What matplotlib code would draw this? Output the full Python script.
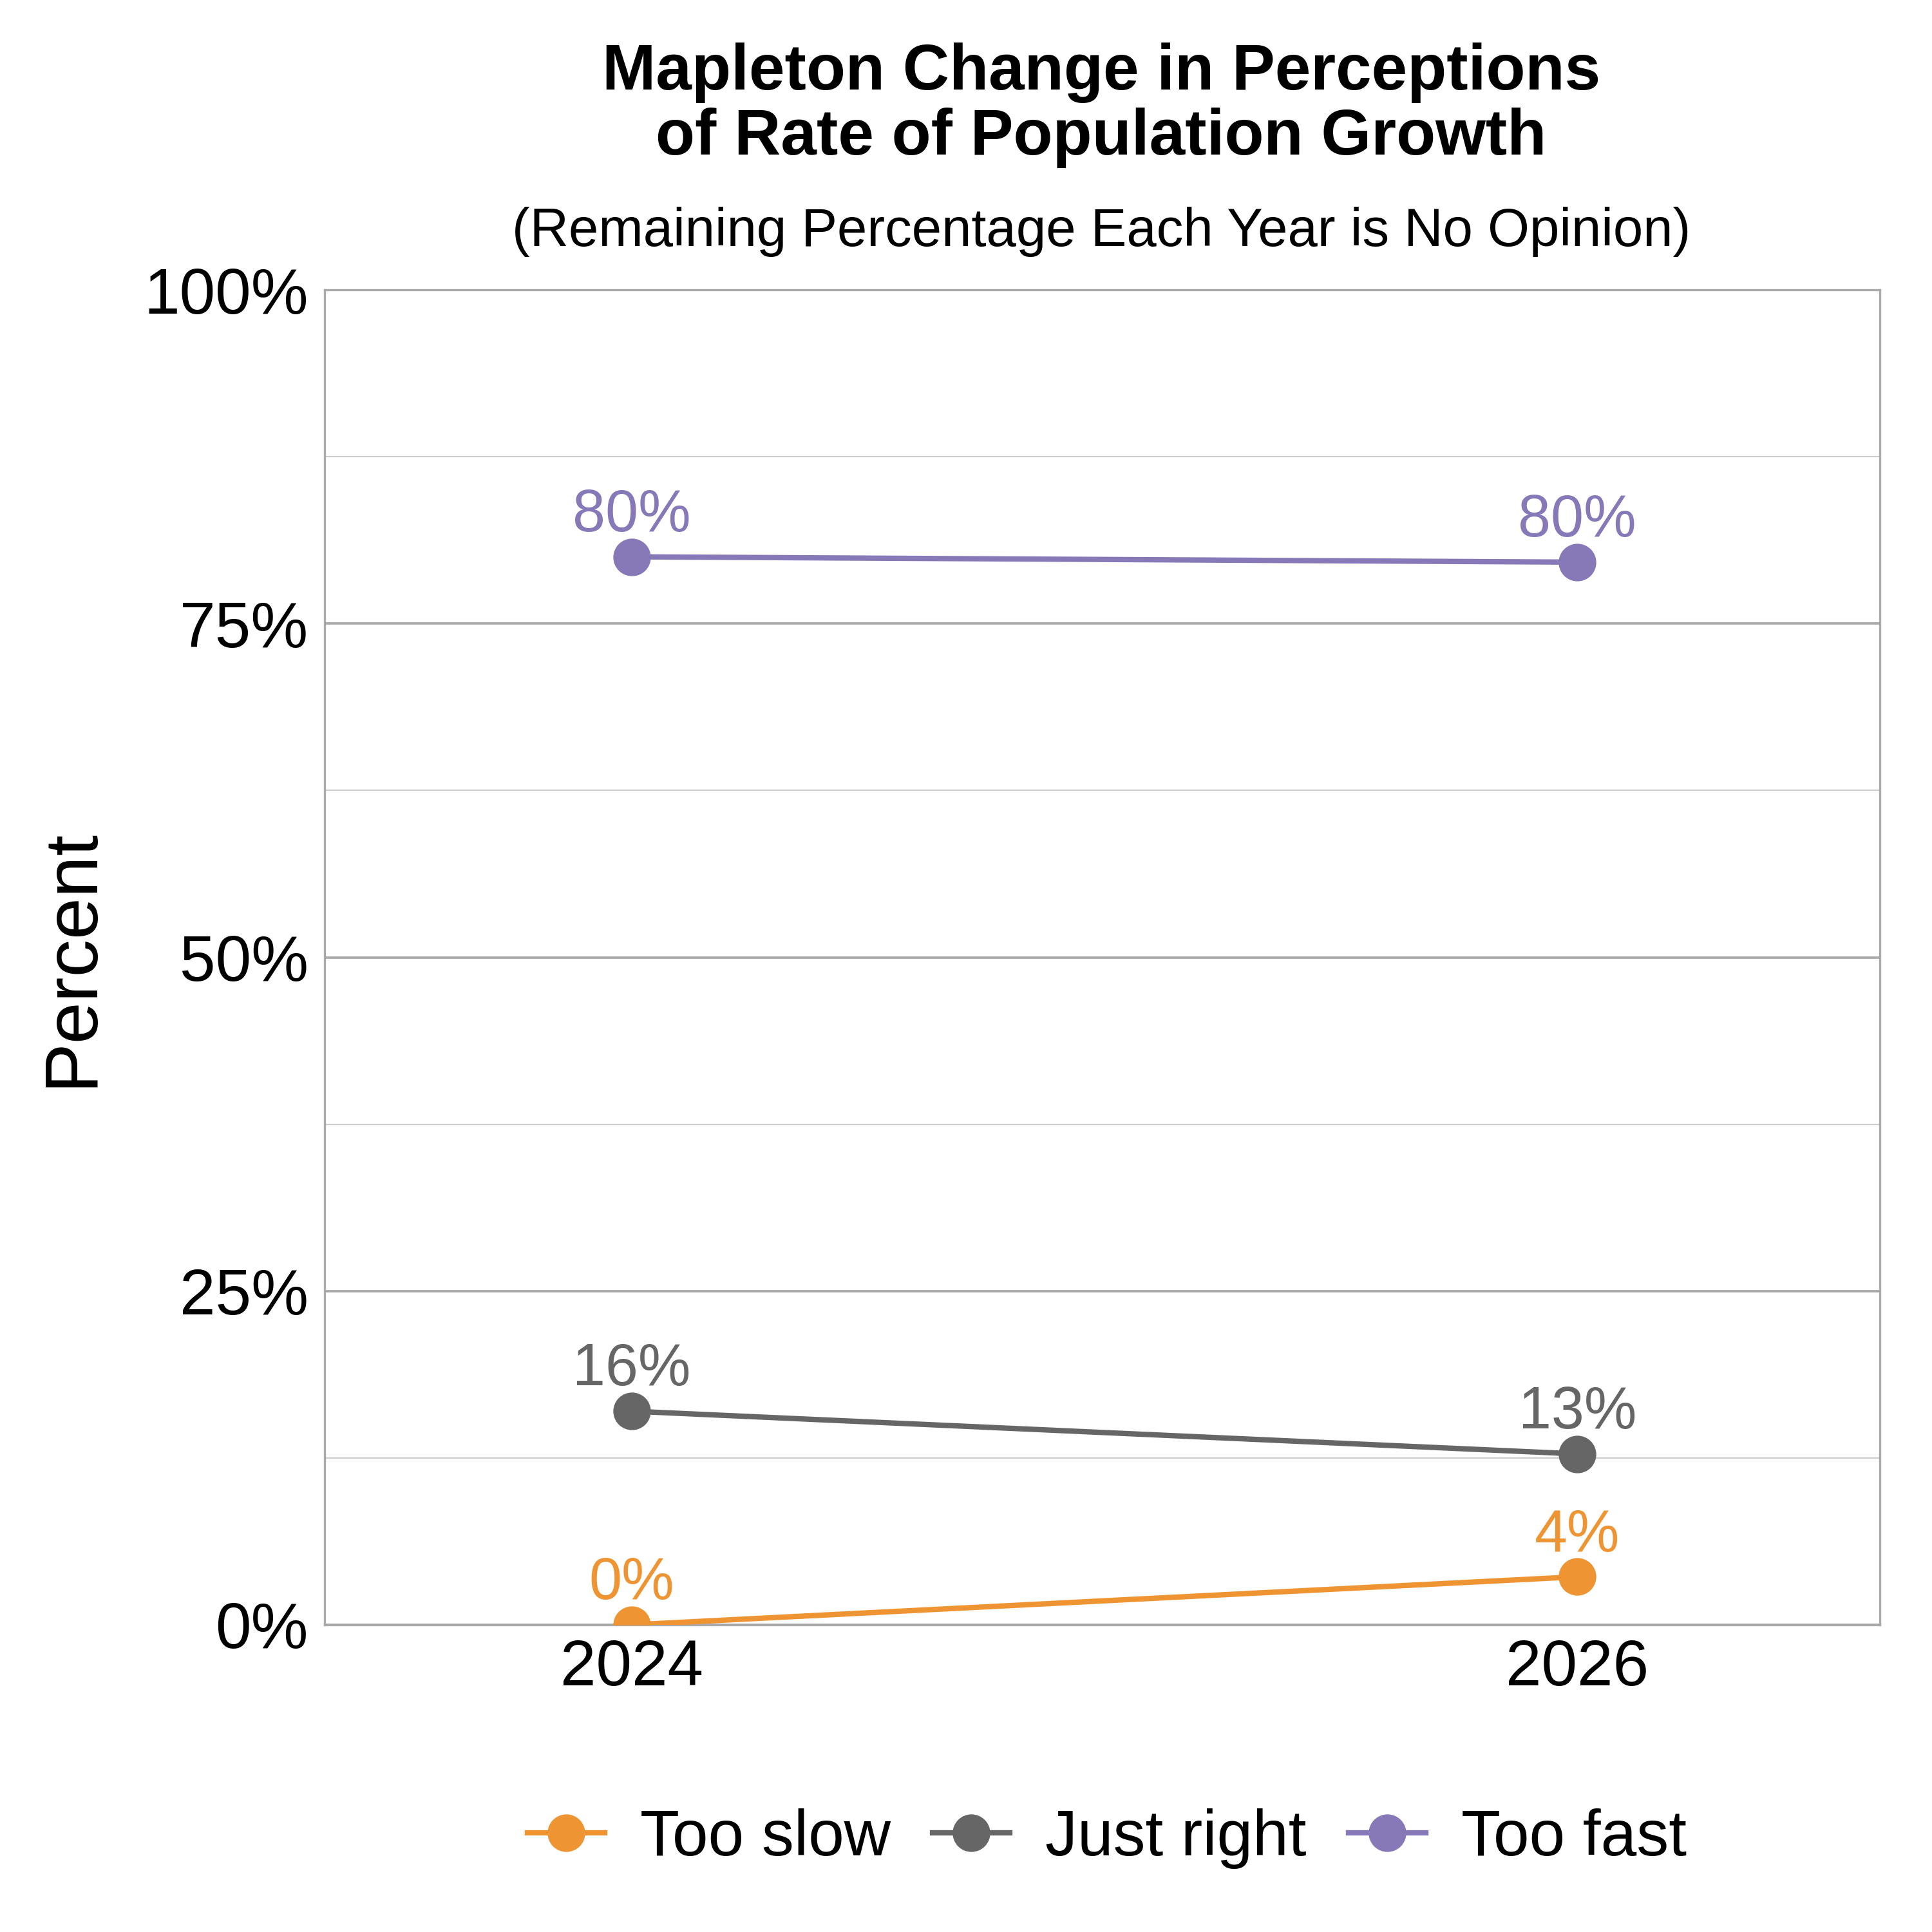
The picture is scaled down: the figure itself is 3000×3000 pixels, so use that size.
import matplotlib
matplotlib.use('Agg')
import matplotlib.pyplot as plt
from matplotlib.ticker import MultipleLocator, PercentFormatter

plt.rcParams['font.family'] = ['Liberation Sans', 'DejaVu Sans']

years = ['2024', '2026']
series_names = ['Too slow', 'Just right', 'Too fast']
too_slow = [0.0, 3.6]
just_right = [16.0, 12.8]
too_fast = [80.0, 79.6]
labels_slow = ['0%', '4%']
labels_right = ['16%', '13%']
labels_fast = ['80%', '80%']
colors = ['#EE9433', '#666666', '#8779B7']

fig = plt.figure(figsize=(10, 10), dpi=300)
ax = fig.add_axes([0.168, 0.159, 0.805, 0.691])

x = list(range(len(years)))
series = [too_slow, just_right, too_fast]
point_labels = [labels_slow, labels_right, labels_fast]

for name, vals, labs, col in zip(series_names, series, point_labels, colors):
    ax.plot(x, vals, color=col, lw=2, marker='o', ms=13, label=name, zorder=3)
    for xi, v, lab in zip(x, vals, labs):
        ax.annotate(lab, (xi, v), xytext=(0, 5), textcoords='offset points',
                    ha='center', va='bottom', color=col, fontsize=22)

ax.set_xlim(-0.325, 1.32)
ax.set_ylim(0, 100)
ax.set_xticks(x)
ax.set_xticklabels(years)
ax.yaxis.set_major_locator(MultipleLocator(25))
ax.yaxis.set_minor_locator(MultipleLocator(12.5))
ax.yaxis.set_major_formatter(PercentFormatter(decimals=0))
ax.grid(axis='y', which='major', color='#AAAAAA', lw=0.9)
ax.grid(axis='y', which='minor', color='#CCCCCC', lw=0.5)
ax.set_axisbelow(True)
for s in ax.spines.values():
    s.set_color('#AAAAAA')
    s.set_linewidth(0.8)
ax.tick_params(axis='both', which='both', length=0, labelsize=24, pad=6)
ax.tick_params(axis='x', pad=5)
ax.set_ylabel('Percent', fontsize=28)
ax.yaxis.set_label_coords(-0.140, 0.5)

fig.text(0.57, 0.978, 'Mapleton Change in Perceptions\nof Rate of Population Growth',
         ha='center', va='top', fontsize=24, fontweight='bold', linespacing=1.1)
fig.text(0.57, 0.880, '(Remaining Percentage Each Year is No Opinion)',
         ha='center', va='center', fontsize=20)

fig.legend(loc='center', bbox_to_anchor=(0.573, 0.0485), ncol=3, frameon=False,
           fontsize=24, handlelength=1.2, columnspacing=0.65, handletextpad=0.55)

fig.savefig('out.png', dpi=300, facecolor='white')
